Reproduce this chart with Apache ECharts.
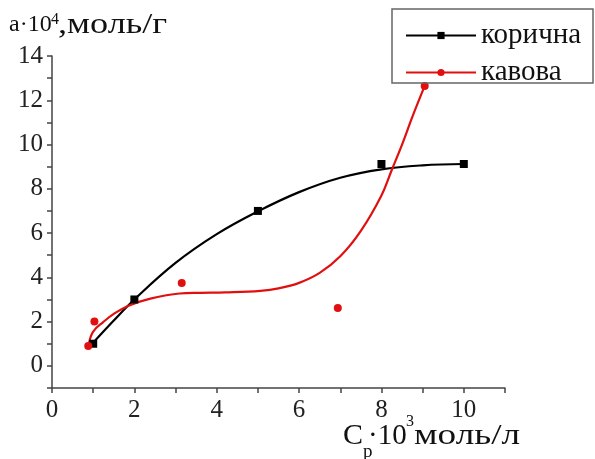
<!DOCTYPE html>
<html>
<head>
<meta charset="utf-8">
<script src="https://cdn.jsdelivr.net/npm/echarts@6/dist/echarts.min.js"></script>
<style>html,body{margin:0;padding:0;background:#fff}#c{width:595px;height:459px}</style>
</head>
<body>
<div id="c"></div>
<script>
// measured points
const brownX = [1, 2, 5, 8, 10];
const brownY = [1.0, 3.0, 7.0, 9.12, 9.12];
const coffeeX = [0.88, 1.03, 3.15, 6.94, 9.05];
const coffeeY = [0.9, 2.0, 3.74, 2.62, 12.65];
// fitted curves
const brownFitX = [1, 1.5, 2, 3, 4, 5, 6, 7, 8, 9, 10];
const brownFitY = [1.05, 2.05, 3.0, 4.65, 5.95, 6.98, 7.85, 8.5, 8.88, 9.06, 9.12];
const coffeeFitX = [0.9, 1.0, 1.25, 1.5, 1.86, 2.39, 3.1, 3.6, 4.2, 5.06, 5.5, 6.0, 6.5, 7.0, 7.5, 8.0, 8.25, 8.5, 8.75, 9.05];
const coffeeFitY = [1.04, 1.55, 1.99, 2.35, 2.72, 3.04, 3.27, 3.3, 3.32, 3.39, 3.5, 3.75, 4.2, 4.95, 6.1, 7.7, 8.85, 10.0, 11.25, 12.65];
// ticks
const xLabels = [0, 2, 4, 6, 8, 10];
const xTicks = [0, 1, 2, 3, 4, 5, 6, 7, 8, 9, 10, 11];
const yLabels = [0, 2, 4, 6, 8, 10, 12, 14];
const yTicks = [-1, 0, 1, 2, 3, 4, 5, 6, 7, 8, 9, 10, 11, 12, 13, 14];
const seriesNames = ['корична', 'кавова'];

const zip = (a, b) => a.map((v, i) => [v, b[i]]);
const FONT = 'Liberation Serif';
const axisColor = '#444';
const RED = '#e01010';

const chart = echarts.init(document.getElementById('c'), null, {renderer: 'canvas'});
chart.setOption({
  animation: false,
  backgroundColor: '#fff',
  grid: {left: 52, right: 90, top: 56, bottom: 71},
  xAxis: {
    type: 'value', min: 0, max: 11,
    axisLine: {show: true, onZero: false, lineStyle: {color: axisColor, width: 1.5}},
    splitLine: {show: false},
    axisTick: {show: true, interval: 0, customValues: xTicks, length: 5, lineStyle: {color: axisColor, width: 1.5}},
    axisLabel: {customValues: xLabels, interval: 0, margin: 10, fontFamily: FONT, fontSize: 25, color: '#222'}
  },
  yAxis: {
    type: 'value', min: -1, max: 14,
    axisLine: {show: true, onZero: false, lineStyle: {color: axisColor, width: 1.5}},
    splitLine: {show: false},
    axisTick: {show: true, interval: 0, customValues: yTicks, length: 5, lineStyle: {color: axisColor, width: 1.5}},
    axisLabel: {customValues: yLabels, interval: 0, margin: 9, fontFamily: FONT, fontSize: 25, color: '#222'}
  },
  legend: {
    data: seriesNames,
    orient: 'vertical', left: 405, top: 21, itemWidth: 70, itemHeight: 9, itemGap: 8,
    padding: 0, z: 20,
    textStyle: {fontFamily: FONT, fontSize: 29, color: '#111'}
  },
  series: [
    {name: seriesNames[0], type: 'line', data: zip(brownFitX, brownFitY), smooth: 0.4, showSymbol: false,
     symbol: 'rect', symbolSize: 8, lineStyle: {color: '#000', width: 2.2}, itemStyle: {color: '#000'}, z: 3},
    {name: seriesNames[1], type: 'line', data: zip(coffeeFitX, coffeeFitY), smooth: 0.4, showSymbol: false,
     symbol: 'circle', symbolSize: 8, lineStyle: {color: RED, width: 2.2}, itemStyle: {color: RED}, z: 3},
    {name: 'pts1', type: 'scatter', data: zip(brownX, brownY), symbol: 'rect', symbolSize: 8,
     itemStyle: {color: '#000', opacity: 1}, z: 4},
    {name: 'pts2', type: 'scatter', data: zip(coffeeX, coffeeY), symbol: 'circle', symbolSize: 8,
     itemStyle: {color: RED, opacity: 1}, z: 4}
  ],
  graphic: [
    {type: 'rect', shape: {x: 392, y: 9, width: 201, height: 74}, z: 10,
     style: {fill: 'rgba(255,255,255,0)', stroke: '#666', lineWidth: 1.5}},
    // y axis title
    {type: 'text', x: 9, y: 25, z: 20, style: {text: 'a·10', font: '24px "Liberation Serif"', fill: '#111', verticalAlign: 'middle'}},
    {type: 'text', x: 51, y: 20, z: 20, style: {text: '4', font: '16px "Liberation Serif"', fill: '#111', verticalAlign: 'middle'}},
    {type: 'text', x: 58, y: 25, z: 20, scaleX: 1.25, style: {text: ',моль/г', font: '29px "Liberation Serif"', fill: '#111', verticalAlign: 'middle'}},
    // x axis title
    {type: 'text', x: 343, y: 436, z: 20, style: {text: 'C', font: '30px "Liberation Serif"', fill: '#111', verticalAlign: 'middle'}},
    {type: 'text', x: 363, y: 452, z: 20, style: {text: 'р', font: '19px "Liberation Serif"', fill: '#111', verticalAlign: 'middle'}},
    {type: 'text', x: 368, y: 436, z: 20, style: {text: '·10', font: '29px "Liberation Serif"', fill: '#111', verticalAlign: 'middle'}},
    {type: 'text', x: 406, y: 422, z: 20, style: {text: '3', font: '16px "Liberation Serif"', fill: '#111', verticalAlign: 'middle'}},
    {type: 'text', x: 414, y: 436, z: 20, scaleX: 1.24, style: {text: 'моль/л', font: '30px "Liberation Serif"', fill: '#111', verticalAlign: 'middle'}}
  ]
});
</script>
</body>
</html>
